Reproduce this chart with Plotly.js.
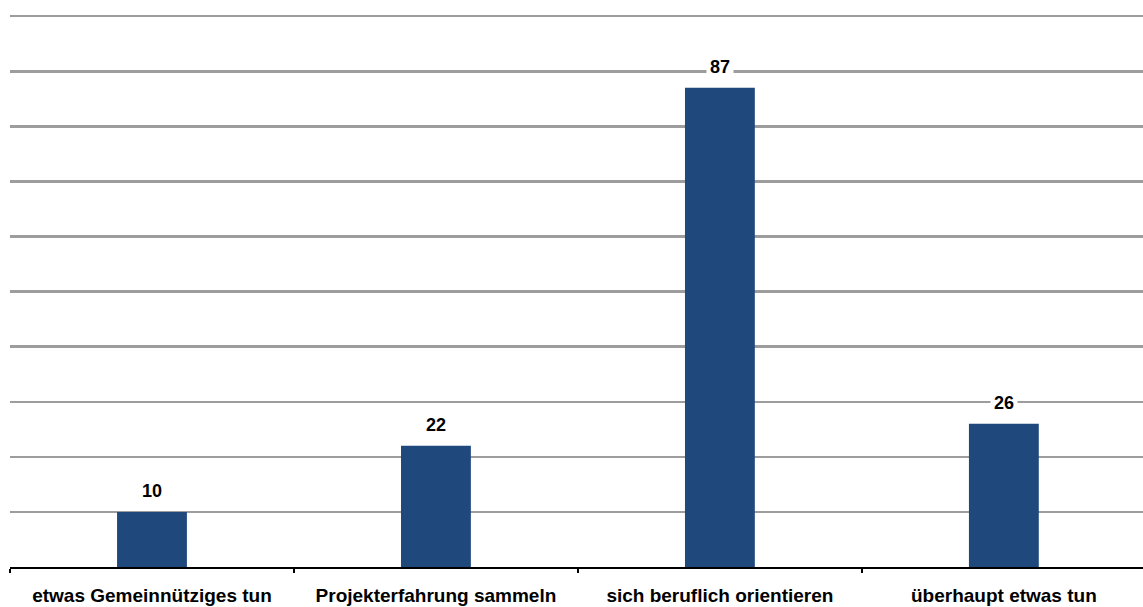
<!DOCTYPE html>
<html><head><meta charset="utf-8">
<script src="https://cdn.plot.ly/plotly-3.0.1.min.js"></script>
<style>html,body{margin:0;padding:0;background:#fff;overflow:hidden}</style>
</head><body><div id="chart" style="width:1143px;height:607px"></div>
<script>
const categories = ["etwas Gemeinnütziges tun", "Projekterfahrung sammeln", "sich beruflich orientieren", "überhaupt etwas tun"];
const values = [10, 22, 87, 26];
const labels = values.map(String);

const trace = {
  type: 'bar', x: categories, y: values,
  marker: {color: '#1f497d'},
  hoverinfo: 'x+y'
};
const annotations = categories.map((c, i) => ({
  x: c, y: values[i], xref: 'x', yref: 'y', text: '<b>' + labels[i] + '</b>',
  showarrow: false, yanchor: 'bottom', yshift: 7, bgcolor: '#ffffff', borderpad: 3,
  font: {family: 'Liberation Sans, Arial, sans-serif', size: 18, color: '#000'}
}));
const layout = {
  width: 1143, height: 607,
  margin: {l: 10, r: 0, t: 14, b: 40},
  paper_bgcolor: '#fff', plot_bgcolor: '#fff',
  bargap: 0.754,
  showlegend: false,
  xaxis: {
    type: 'category', range: [-0.5, 3.49], fixedrange: true,
    showline: true, linecolor: '#000', linewidth: 2,
    ticks: 'outside', ticklen: 4, tickwidth: 2, tickcolor: '#000', tickson: 'boundaries',
    ticklabelstandoff: 10,
    tickfont: {family: 'Liberation Sans, Arial, sans-serif', size: 19, color: '#000', weight: 'bold'},
    showgrid: false, zeroline: false
  },
  yaxis: {
    range: [0, 100.4], tickvals: [10,20,30,40,50,60,70,80,90,100], showticklabels: false, fixedrange: true,
    showgrid: true, gridcolor: '#9d9d9d', gridwidth: 2.5, zeroline: false, showline: false, ticks: ''
  },
  annotations: annotations
};
Plotly.newPlot('chart', [trace], layout, {displayModeBar: false, staticPlot: true});
</script></body></html>
